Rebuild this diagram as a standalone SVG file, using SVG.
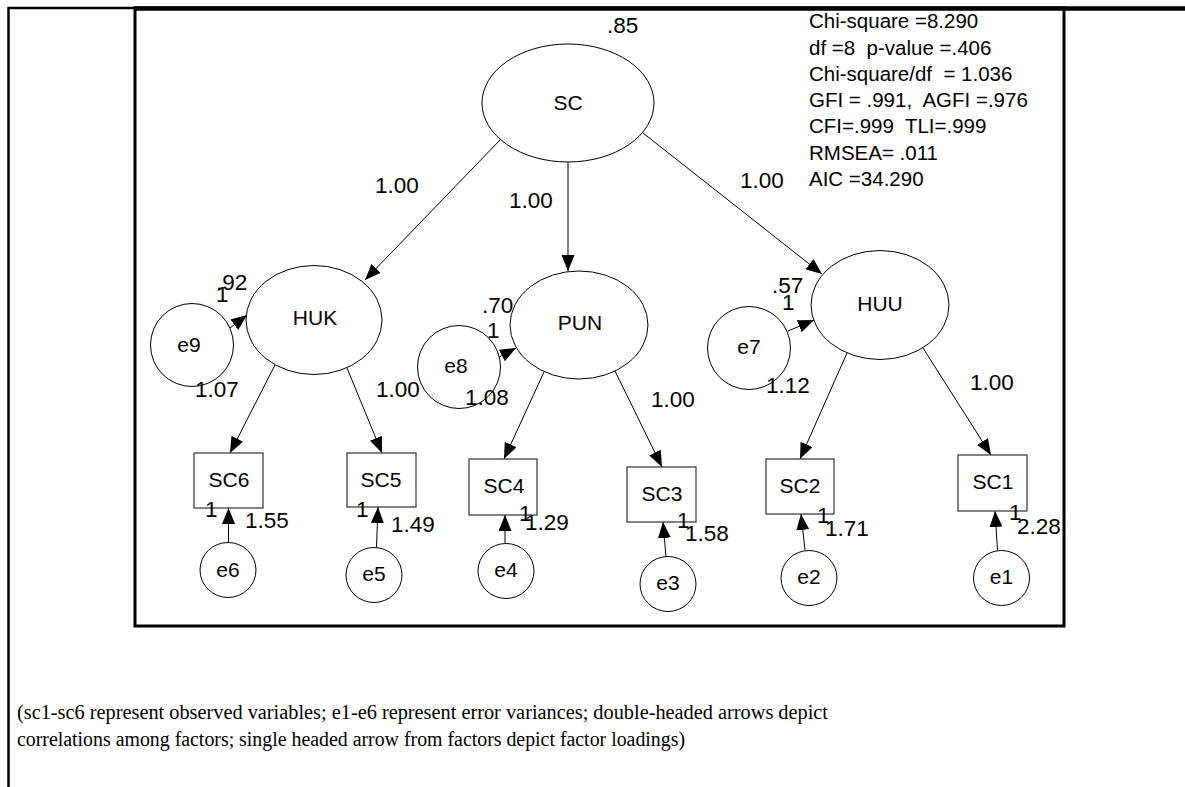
<svg xmlns="http://www.w3.org/2000/svg" width="1185" height="787" viewBox="0 0 1185 787">
<style>
.bg{fill:#fff}
.frame{fill:none;stroke:#000}
.lat{fill:#fff;stroke:#000;stroke-width:1}
.obs{fill:#fff;stroke:#333;stroke-width:1.2}
.lbl{font-family:"Liberation Sans",Arial,sans-serif;font-size:21px;fill:#000;text-anchor:middle}
.num{font-family:"Liberation Sans",Arial,sans-serif;font-size:22.5px;fill:#000}
.fit{font-family:"Liberation Sans",Arial,sans-serif;font-size:20.5px;fill:#000;white-space:pre}
.cap{font-family:"Liberation Serif","Times New Roman",serif;font-size:20px;fill:#000}
.edge{stroke:#000;stroke-width:1;fill:none;marker-end:url(#ah)}
</style>
<defs>
<marker id="ah" markerUnits="userSpaceOnUse" markerWidth="16" markerHeight="13" refX="16" refY="6.5" orient="auto">
<path d="M0,0 L16,6.5 L0,13 z" fill="#000"/>
</marker>
</defs>
<rect class="bg" x="0" y="0" width="1185" height="787"/>
<g id="frame">
<line class="frame" x1="8.5" y1="7" x2="8.5" y2="787" stroke-width="2.5"/>
<line class="frame" x1="8" y1="8" x2="136" y2="8" stroke-width="2.5"/>
<line class="frame" x1="134" y1="8.5" x2="1185" y2="8.5" stroke-width="4.5"/>
<rect class="frame" x="135" y="8" width="929" height="618" stroke-width="3"/>
</g>
<g id="connectors">
<line class="edge" x1="500" y1="140" x2="365" y2="280"/>
<line class="edge" x1="568" y1="162" x2="568" y2="271"/>
<line class="edge" x1="643" y1="133" x2="822" y2="274"/>
<line class="edge" x1="275" y1="365" x2="230" y2="453"/>
<line class="edge" x1="347" y1="368" x2="382" y2="453"/>
<line class="edge" x1="544" y1="372" x2="504" y2="459"/>
<line class="edge" x1="615" y1="371" x2="662" y2="467"/>
<line class="edge" x1="847" y1="353" x2="800" y2="459"/>
<line class="edge" x1="923" y1="348" x2="991" y2="455"/>
<line class="edge" x1="230" y1="328" x2="247" y2="315"/>
<line class="edge" x1="499" y1="357" x2="516" y2="348"/>
<line class="edge" x1="788" y1="331" x2="814" y2="320"/>
<line class="edge" x1="228.5" y1="543" x2="228.5" y2="508"/>
<line class="edge" x1="376.5" y1="547" x2="378" y2="507"/>
<line class="edge" x1="505" y1="543" x2="505" y2="515"/>
<line class="edge" x1="666" y1="557" x2="663" y2="522"/>
<line class="edge" x1="805" y1="550" x2="801" y2="514"/>
<line class="edge" x1="997.5" y1="550" x2="995" y2="511"/>
</g>
<g id="SC"><ellipse class="lat" cx="568" cy="103" rx="86" ry="59"/><text class="lbl" x="568" y="110">SC</text></g>
<g id="HUK"><ellipse class="lat" cx="314" cy="320" rx="68" ry="54.5"/><text class="lbl" x="315" y="325">HUK</text></g>
<g id="PUN"><ellipse class="lat" cx="579" cy="325" rx="69" ry="54"/><text class="lbl" x="580" y="330">PUN</text></g>
<g id="HUU"><ellipse class="lat" cx="880" cy="305" rx="69" ry="54.5"/><text class="lbl" x="880" y="311">HUU</text></g>
<g id="e9"><circle class="lat" cx="192" cy="345" r="41.5"/><text class="lbl" x="189" y="352">e9</text></g>
<g id="e8"><circle class="lat" cx="459" cy="367" r="41.5"/><text class="lbl" x="456" y="373">e8</text></g>
<g id="e7"><circle class="lat" cx="749" cy="348" r="41.5"/><text class="lbl" x="749" y="354">e7</text></g>
<g id="SC6"><rect class="obs" x="194" y="453" width="69" height="55"/><text class="lbl" x="229" y="487">SC6</text></g>
<g id="SC5"><rect class="obs" x="347" y="453" width="69" height="54"/><text class="lbl" x="381" y="487">SC5</text></g>
<g id="SC4"><rect class="obs" x="469" y="459" width="68" height="56"/><text class="lbl" x="504" y="493">SC4</text></g>
<g id="SC3"><rect class="obs" x="627" y="467" width="69" height="55"/><text class="lbl" x="662" y="501">SC3</text></g>
<g id="SC2"><rect class="obs" x="766" y="459" width="68" height="55"/><text class="lbl" x="800" y="493">SC2</text></g>
<g id="SC1"><rect class="obs" x="958" y="455" width="69" height="56"/><text class="lbl" x="993" y="489">SC1</text></g>
<g id="e6"><ellipse class="lat" cx="228" cy="570" rx="28" ry="27.5"/><text class="lbl" x="228" y="577">e6</text></g>
<g id="e5"><ellipse class="lat" cx="374" cy="575" rx="28" ry="27.5"/><text class="lbl" x="374" y="581">e5</text></g>
<g id="e4"><ellipse class="lat" cx="506" cy="571" rx="28" ry="27.5"/><text class="lbl" x="506" y="577">e4</text></g>
<g id="e3"><ellipse class="lat" cx="668" cy="584" rx="28" ry="27.5"/><text class="lbl" x="668" y="590">e3</text></g>
<g id="e2"><ellipse class="lat" cx="809" cy="578" rx="28" ry="27.5"/><text class="lbl" x="809" y="584">e2</text></g>
<g id="e1"><ellipse class="lat" cx="1001.5" cy="578" rx="28" ry="27.5"/><text class="lbl" x="1001.5" y="584">e1</text></g>
<g id="labels">
<text class="num" x="607" y="33">.85</text>
<text class="num" x="375" y="193">1.00</text>
<text class="num" x="509" y="208">1.00</text>
<text class="num" x="740" y="188">1.00</text>
<text class="num" x="216" y="290">.92</text>
<text class="num" x="216" y="302">1</text>
<text class="num" x="195" y="397">1.07</text>
<text class="num" x="376" y="397">1.00</text>
<text class="num" x="482" y="313">.70</text>
<text class="num" x="487" y="338">1</text>
<text class="num" x="465" y="405">1.08</text>
<text class="num" x="651" y="407">1.00</text>
<text class="num" x="772" y="293">.57</text>
<text class="num" x="782" y="310">1</text>
<text class="num" x="766" y="393">1.12</text>
<text class="num" x="970" y="390">1.00</text>
<text class="num" x="205" y="517">1</text>
<text class="num" x="245" y="528">1.55</text>
<text class="num" x="356" y="517">1</text>
<text class="num" x="391" y="532">1.49</text>
<text class="num" x="519" y="521">1</text>
<text class="num" x="525" y="530">1.29</text>
<text class="num" x="677" y="528">1</text>
<text class="num" x="685" y="541">1.58</text>
<text class="num" x="817" y="523">1</text>
<text class="num" x="825" y="536">1.71</text>
<text class="num" x="1009" y="520">1</text>
<text class="num" x="1017" y="534">2.28</text>
</g>
<g id="fit-stats">
<text class="fit" x="809" y="28">Chi-square =8.290</text>
<text class="fit" x="809" y="54.5">df =8  p-value =.406</text>
<text class="fit" x="809" y="81">Chi-square/df  = 1.036</text>
<text class="fit" x="809" y="107">GFI = .991,  AGFI =.976</text>
<text class="fit" x="809" y="133">CFI=.999  TLI=.999</text>
<text class="fit" x="809" y="159.5">RMSEA= .011</text>
<text class="fit" x="809" y="186">AIC =34.290</text>
</g>
<g id="caption">
<text class="cap" x="17" y="719" textLength="811" lengthAdjust="spacingAndGlyphs">(sc1-sc6 represent observed variables; e1-e6 represent error variances; double-headed arrows depict</text>
<text class="cap" x="17" y="746" textLength="668" lengthAdjust="spacingAndGlyphs">correlations among factors; single headed arrow from factors depict factor loadings)</text>
</g>
</svg>
